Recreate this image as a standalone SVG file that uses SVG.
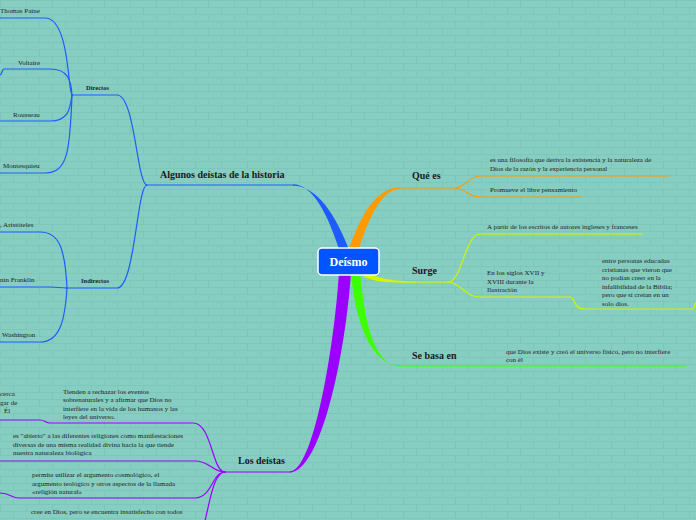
<svg xmlns="http://www.w3.org/2000/svg" width="696" height="520" viewBox="0 0 696 520">
<defs>
<pattern id="bricks" width="26" height="14" patternUnits="userSpaceOnUse">
<rect width="26" height="14" fill="#86cec1"/>
<path d="M0 0.5H26M0 7.5H26M0.5 0V7M13.5 7V14" stroke="#7cc4b7" stroke-width="0.8" fill="none"/>
</pattern>
<style>
.t{font-family:"Liberation Serif",serif;font-size:7px;fill:#222}
.s{font-family:"Liberation Serif",serif;font-size:6.5px;font-weight:bold;fill:#222}
.b{font-family:"Liberation Serif",serif;font-size:10px;font-weight:bold;fill:#1a1a1a}
.c{font-family:"Liberation Serif",serif;font-size:12px;font-weight:bold;fill:#fff}
.l{fill:none;stroke-width:1.2;stroke-linecap:round}
.bl{stroke:#1f5cff}.or{stroke:#ff9a00}.ye{stroke:#d2f500}.gr{stroke:#3cff00}.pu{stroke:#9b00ff}
</style>
</defs>
<rect width="696" height="520" fill="url(#bricks)"/>
<g id="connectors">
<path d="M340 252 C328 215 313 184.3 293 184.3 L293 185.7 C317 185.7 336 215 350 252 Z" fill="#1f5cff"/>
<path d="M348 252 C356 228 372 187.3 400 187.3 L400 188.7 C378 188.7 364 232 358 252 Z" fill="#ff9a00"/>
<path d="M362 271 C380 279 395 281.3 415 281.3 L415 282.7 C395 282.7 378 283 364 277 Z" fill="#d2f500"/>
<path d="M351 272 C354 312 368 365.3 400 365.3 L400 366.7 C370 364 364 310 360 272 Z" fill="#3cff00"/>
<path d="M339 272 C334 350 313 471.3 290 471.3 L290 472.7 C322 470 346 350 351 272 Z" fill="#9b00ff"/>
<path class="l bl" d="M293 185 L147 185"/>
<path class="l bl" d="M147 185 C137 185 135 95 117 95 L72 95"/>
<path class="l bl" d="M147 185 C137 185 135 288 117 288 L67 288"/>
<path class="l bl" d="M72 95 C68 95 70 18 45 18 L0 18"/>
<path class="l bl" d="M72 95 C71 80 68 69 50 69 L4 69 C2 69 2 75 0 75"/>
<path class="l bl" d="M72 95 C70 110 68 121 50 121 L0 121"/>
<path class="l bl" d="M72 95 C70 150 68 173 45 173 L0 173"/>
<path class="l bl" d="M67 288 C65 250 60 232 40 232 L0 232"/>
<path class="l bl" d="M67 288 L50 287 L0 287"/>
<path class="l bl" d="M67 288 C65 320 60 342 40 342 L0 342"/>
<path class="l or" d="M400 188 L455 188"/>
<path class="l or" d="M455 188 C465 188 468 176 480 176 L669 176"/>
<path class="l or" d="M455 188 C465 188 468 197 480 197 L581 197"/>
<path class="l ye" d="M415 282 L448 282"/>
<path class="l ye" d="M448 282 C462 282 465 234 480 234 L642 234"/>
<path class="l ye" d="M448 282 C460 282 465 297 480 297 L570 297 C576 297 572 309 585 309 L692 309 C695 309 694 305 696 303"/>
<path class="l gr" d="M400 366 L686 366"/>
<path class="l pu" d="M290 472 L225 472"/>
<path class="l pu" d="M225 472 C212 472 212 423 193 423 L50 423 C45 423 45 420 40 420 L0 420"/>
<path class="l pu" d="M225 472 C212 472 210 461 195 461 L0 461"/>
<path class="l pu" d="M225 472 C212 472 212 498 195 498 L18 498 C12 498 10 493 0 493"/>
<path class="l pu" d="M225 472 C214 472 210 500 205 521"/>
</g>
<g id="center">
<rect x="318" y="248" width="61" height="27" rx="4" fill="#0055ff" stroke="#fff" stroke-width="1.5"/>
<text class="c" x="348.5" y="266" text-anchor="middle">Deísmo</text>
</g>
<g id="historia"><text class="b" x="160" y="178">Algunos deístas de la historia</text></g>
<g id="directos"><text class="s" x="86" y="90">Directos</text></g>
<g id="paine"><text class="t" x="0" y="13">Thomas Paine</text></g>
<g id="voltaire"><text class="t" x="18" y="65">Voltaire</text></g>
<g id="rousseau"><text class="t" x="13" y="117">Rousseau</text></g>
<g id="montesquieu"><text class="t" x="3" y="168">Montesquieu</text></g>
<g id="indirectos"><text class="s" x="81" y="283">Indirectos</text></g>
<g id="aristoteles"><text class="t" x="0" y="227">, Aristóteles</text></g>
<g id="franklin"><text class="t" x="0" y="282">nin Franklin</text></g>
<g id="washington"><text class="t" x="2" y="337">Washington</text></g>
<g id="quees"><text class="b" x="412" y="179">Qué es</text></g>
<g id="filosofia"><text class="t" x="490" y="162">es una filosofía que deriva la existencia y la naturaleza de</text><text class="t" x="490" y="171">Dios de la razón y la experiencia personal</text></g>
<g id="librepens"><text class="t" x="490" y="192">Promueve el libre pensamiento</text></g>
<g id="surge"><text class="b" x="412" y="274">Surge</text></g>
<g id="escritos"><text class="t" x="487" y="229">A partir de los escritos de autores ingleses y franceses</text></g>
<g id="siglos"><text class="t" x="487" y="275">En los siglos XVII y</text><text class="t" x="487" y="283.5">XVIII durante la</text><text class="t" x="487" y="292">Ilustración</text></g>
<g id="personas"><text class="t" x="602" y="263">entre personas educadas</text><text class="t" x="602" y="271.5">cristianas que vieron que</text><text class="t" x="602" y="280">no podían creer en la</text><text class="t" x="602" y="288.5">infalibilidad de la Biblia;</text><text class="t" x="602" y="297">pero que sí creían en un</text><text class="t" x="602" y="305.5">solo dios.</text></g>
<g id="sebasa"><text class="b" x="412" y="359">Se basa en</text></g>
<g id="existe"><text class="t" x="506" y="354">que Dios existe y creó el universo físico, pero no interfiere</text><text class="t" x="506" y="362">con él</text></g>
<g id="losdeistas"><text class="b" x="238" y="464">Los deístas</text></g>
<g id="cerca"><text class="t" x="0" y="396">cerca</text><text class="t" x="0" y="404.5">gar de</text><text class="t" x="4" y="413">Él</text></g>
<g id="tienden"><text class="t" x="63" y="394">Tienden a rechazar los eventos</text><text class="t" x="63" y="402">sobrenaturales y a afirmar que Dios no</text><text class="t" x="63" y="410.5">interfiere en la vida de los humanos y las</text><text class="t" x="63" y="419">leyes del universo.</text></g>
<g id="abierto"><text class="t" x="13" y="438">es "abierto" a las diferentes religiones como manifestaciones</text><text class="t" x="13" y="446.5">diversas de una misma realidad divina hacia la que tiende</text><text class="t" x="13" y="455">nuestra naturaleza biológica</text></g>
<g id="permite"><text class="t" x="32" y="477">permite utilizar el argumento cosmológico, el</text><text class="t" x="32" y="485.5">argumento teológico y otros aspectos de la llamada</text><text class="t" x="32" y="494">«religión natural»</text></g>
<g id="cree"><text class="t" x="31" y="514">cree en Dios, pero se encuentra insatisfecho con todos</text></g>
</svg>
